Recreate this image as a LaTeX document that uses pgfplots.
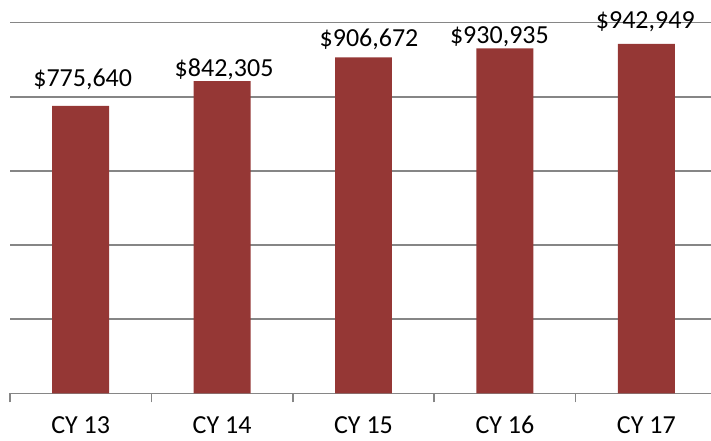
\documentclass[border=0pt]{standalone}
\usepackage{pgfplots}
\pgfplotsset{compat=1.18}
\usepackage{fontspec}
\setmainfont{Carlito}
\definecolor{barred}{HTML}{953735}
\definecolor{gridgray}{HTML}{868686}
\begin{document}
\fontsize{26pt}{31pt}\selectfont
\begin{tikzpicture}
\path[use as bounding box] (-10pt,-46.7pt) rectangle (701pt,393.3pt);
\begin{axis}[
  at={(0pt,0pt)}, anchor=south west,
  scale only axis, width=701pt, height=370.6pt,
  xmin=-0.5, xmax=4.4576, ymin=0, ymax=1000000,
  scaled y ticks=false,
  axis line style={draw=none},
  tick pos=left,
  major tick length=0pt,
  ytick={0,200000,400000,600000,800000,1000000},
  yticklabels={},
  ymajorgrids,
  grid style={gridgray, line width=1.5pt},
  xtick={0,1,2,3,4},
  xticklabels={CY 13,CY 14,CY 15,CY 16,CY 17},
  xticklabel style={anchor=base, yshift=-40.5pt, font=\fontsize{26pt}{31pt}\selectfont, inner sep=0pt, text depth=0pt},
  extra x ticks={-0.5,0.5,1.5,2.5,3.5},
  extra x tick labels={},
  extra x tick style={major tick length=9pt, tick align=outside, tick style={gridgray, line width=1.5pt}},
  clip=false,
]
\addplot[ybar, fill=barred, draw=none, bar width=0.403,
  point meta=explicit symbolic,
  nodes near coords={\$\pgfplotspointmeta},
  visualization depends on={\thisrow{dx} \as \dx},
  visualization depends on={\thisrow{dy} \as \dy},
  every node near coord/.append style={anchor=base, xshift=\dx pt, yshift=\dy pt, text=black, inner sep=0pt, font=\fontsize{26pt}{31pt}\selectfont}]
  table[x=x, y=y, meta=lbl] {
x y dx dy lbl
0 775640 2 19 775,640
1 842305 2 5 842,305
2 906672 5.5 10.3 906,672
3 930935 -5.5 5 930,935
4 942949 -1 15.5 942,949
};
\end{axis}
\end{tikzpicture}
\end{document}
